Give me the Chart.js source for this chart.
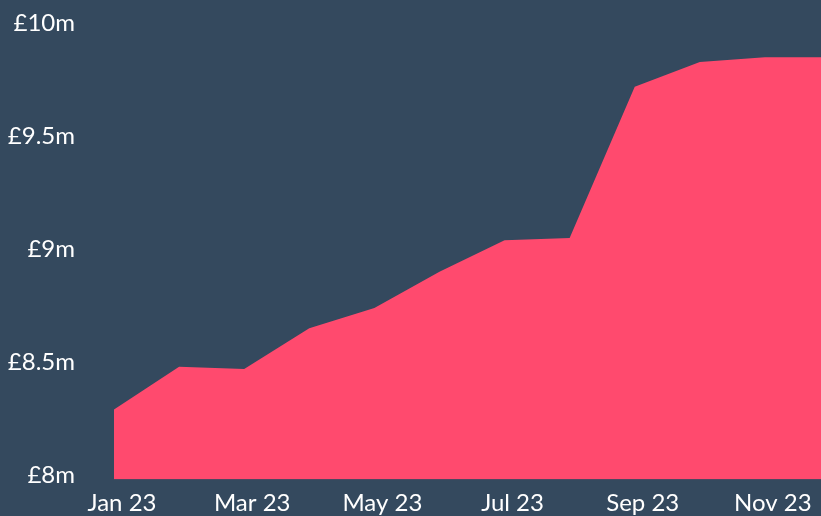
<!DOCTYPE html>
<html>
<head>
<meta charset="utf-8">
<script src="https://cdn.jsdelivr.net/npm/chart.js@4"></script>
<style>
  html, body { margin: 0; padding: 0; background: #34495e; overflow: hidden; }
  /* the last month runs just past the right edge in the original */
  #wrap { width: 830px; height: 516px; }
</style>
</head>
<body>
<div id="wrap"><canvas id="valueChart"></canvas></div>
<script>
const months = ['Jan 23', 'Feb 23', 'Mar 23', 'Apr 23', 'May 23', 'Jun 23',
                'Jul 23', 'Aug 23', 'Sep 23', 'Oct 23', 'Nov 23', 'Dec 23'];
const values = [8.29, 8.48, 8.47, 8.65, 8.74, 8.90, 9.04, 9.05, 9.72, 9.83, 9.85, 9.85]; // £m
const yTicks = [8, 8.5, 9, 9.5, 10];

const font = { family: 'Lato, "Open Sans", sans-serif', size: 24 };

const ctx = document.getElementById('valueChart').getContext('2d');
const chart = new Chart(ctx, {
  type: 'line',
  data: {
    labels: months,
    datasets: [{
      data: values,
      fill: 'start',
      backgroundColor: '#ff4a6e',
      borderWidth: 0,
      pointRadius: 0,
      tension: 0
    }]
  },
  options: {
    responsive: true,
    maintainAspectRatio: false,
    animation: false,
    layout: { padding: { top: 23.5, right: 0, left: 0, bottom: 0 } },
    plugins: { legend: { display: false }, tooltip: { enabled: false } },
    scales: {
      x: {
        grid: { display: false, drawTicks: false },
        border: { display: false },
        afterFit: function(scale) {
          scale.height = 36.5;
          scale.paddingLeft = 0;
          scale.paddingRight = 0;
        },
        ticks: {
          color: '#ffffff',
          font: font,
          autoSkip: false,
          maxRotation: 0,
          padding: 9,
          labelOffset: 8,
          callback: function(v, i) { return i % 2 === 0 ? months[i] : ''; }
        }
      },
      y: {
        min: 7.98,
        max: 10,
        grid: { display: false, drawTicks: false },
        border: { display: false },
        afterFit: function(scale) {
          scale.width = 114;
          scale.paddingTop = 0;
          scale.paddingBottom = 0;
        },
        afterBuildTicks: function(scale) {
          scale.ticks = yTicks.map(v => ({ value: v }));
        },
        ticks: {
          color: '#ffffff',
          font: font,
          padding: 39,
          callback: function(v) { return '£' + v + 'm'; }
        }
      }
    }
  }
});
</script>
</body>
</html>
